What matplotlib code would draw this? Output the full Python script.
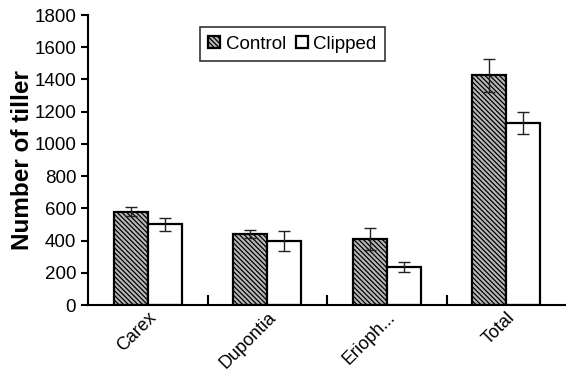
import numpy as np
import matplotlib.pyplot as plt
from matplotlib.ticker import FixedLocator

plt.rcParams['font.family'] = ['Liberation Sans', 'DejaVu Sans']
plt.rcParams['hatch.linewidth'] = 0.9

# Data
categories = ['Carex', 'Dupontia', 'Erioph...', 'Total']
control = [580, 440, 410, 1425]
control_err = [30, 25, 70, 100]
clipped = [500, 395, 235, 1130]
clipped_err = [40, 62, 30, 68]

fig = plt.figure(figsize=(5.66, 3.73), dpi=100)
ax = fig.add_axes([88 / 566, 68 / 373, 478 / 566, 290 / 373])

x = np.arange(len(categories))
w = 0.285

ax.bar(x - w / 2, control, w, facecolor='#b8b8b8', edgecolor='black',
       linewidth=1.6, hatch='\\\\\\\\\\\\\\', label='Control', zorder=2)
ax.bar(x + w / 2, clipped, w, facecolor='white', edgecolor='black',
       linewidth=1.6, label='Clipped', zorder=2)
ax.errorbar(x - w / 2, control, yerr=control_err, fmt='none', ecolor='#222222',
            elinewidth=1, capsize=4.5, capthick=1, zorder=3)
ax.errorbar(x + w / 2, clipped, yerr=clipped_err, fmt='none', ecolor='#222222',
            elinewidth=1, capsize=4.5, capthick=1, zorder=3)

ax.set_xlim(-0.5, 3.5)
ax.set_ylim(0, 1800)
ax.set_yticks(np.arange(0, 1801, 200))
ax.tick_params(axis='y', labelsize=13.5, width=1.5, length=5, direction='out')

ax.set_xticks(x)
ax.set_xticklabels(categories, rotation=45, ha='right', rotation_mode='anchor',
                   fontsize=13)
ax.tick_params(axis='x', which='major', length=0, pad=3)
ax.xaxis.set_minor_locator(FixedLocator([0.5, 1.5, 2.5]))
ax.tick_params(axis='x', which='minor', direction='in', length=7, width=1.5)

for side in ['top', 'right']:
    ax.spines[side].set_visible(False)
for side in ['left', 'bottom']:
    ax.spines[side].set_linewidth(1.5)

ax.set_ylabel('Number of tiller', fontsize=17.5, fontweight='bold', labelpad=0)

leg = ax.legend(loc='upper left', bbox_to_anchor=(0.214, 0.99), ncol=2,
                fontsize=13.5, frameon=True, fancybox=False, edgecolor='black',
                handlelength=0.65, handleheight=0.65, handletextpad=0.3,
                columnspacing=0.5, borderpad=0.45)
leg.get_frame().set_linewidth(1.2)

fig.savefig('out.png', dpi=100)
